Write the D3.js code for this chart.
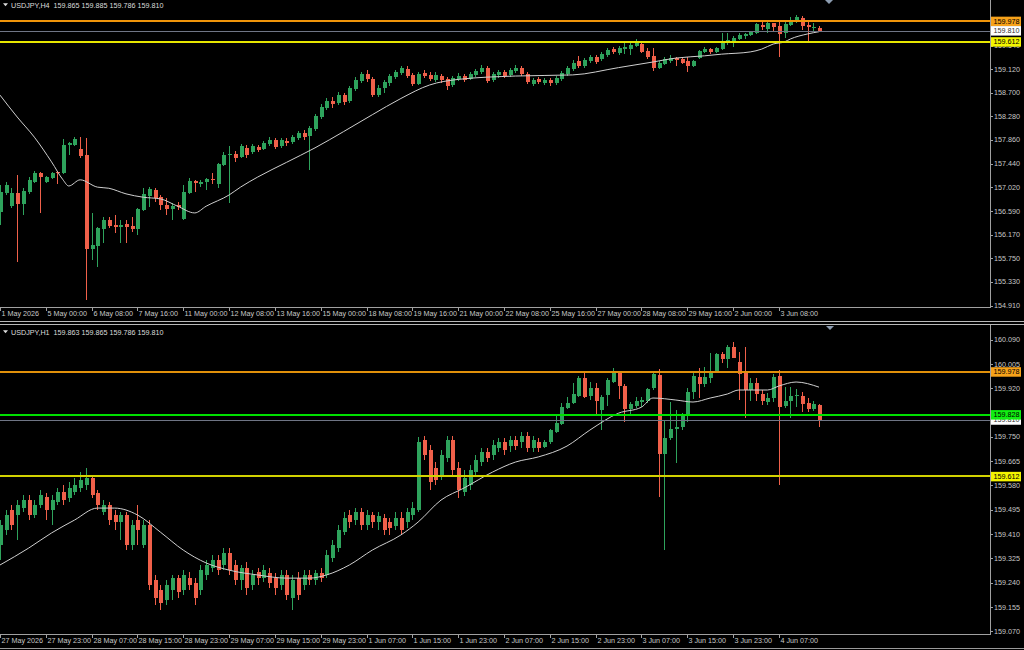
<!DOCTYPE html>
<html><head><meta charset="utf-8">
<script src="https://cdn.jsdelivr.net/npm/d3@7"></script>
<style>html,body{margin:0;padding:0;background:#000;overflow:hidden}svg{display:block}</style>
</head><body>
<svg id="c" width="1024" height="650"></svg>
<script>
// ---------------- DATA: USDJPY H4 ----------------
const h4Title = "USDJPY,H4  159.865 159.885 159.786 159.810";
const h4Open = [156.57,156.91,156.68,156.91,156.72,156.93,157.11,157.27,157.11,157.18,157.29,157.27,157.77,157.77,157.70,157.59,155.91,155.97,156.27,156.43,
156.34,156.31,156.36,156.32,156.27,156.61,156.86,156.97,156.84,156.70,156.63,156.70,156.45,156.91,157.13,157.07,157.11,157.16,157.07,157.41,
157.59,157.61,157.55,157.72,157.64,157.73,157.70,157.79,157.86,157.75,157.84,157.82,157.89,157.98,157.93,158.05,158.27,158.43,158.55,158.52,
158.66,158.55,158.77,158.91,159.04,158.95,158.67,158.78,158.88,158.98,159.05,159.13,159.02,158.86,159.05,159.02,158.93,159.00,158.95,158.84,
158.95,159.00,158.95,159.02,159.07,159.14,158.93,159.02,159.07,159.02,159.09,159.14,159.04,158.86,158.95,158.88,158.93,158.88,158.95,159.04,
159.13,159.27,159.18,159.27,159.34,159.30,159.38,159.48,159.41,159.48,159.48,159.54,159.57,159.45,159.36,159.14,159.21,159.27,159.32,159.30,
159.27,159.18,159.32,159.43,159.48,159.43,159.48,159.59,159.61,159.66,159.71,159.73,159.77,159.91,159.84,159.95,159.89,159.77,159.91,159.98,
160.04,159.91,159.86,159.865];
const h4High = [157.06,157.11,157.00,157.23,157.00,157.20,157.31,157.29,157.22,157.29,157.31,157.88,157.82,157.91,157.91,157.89,156.56,156.31,156.48,156.48,
156.52,156.43,156.43,156.48,156.65,157.00,157.02,157.00,156.88,156.82,156.73,156.75,157.06,157.18,157.15,157.15,157.18,157.27,157.45,157.64,
157.75,157.66,157.79,157.77,157.79,157.77,157.84,157.91,157.89,157.89,157.89,157.95,158.02,158.04,158.11,158.32,158.50,158.61,158.63,158.71,
158.70,158.82,158.98,159.07,159.11,158.98,158.84,158.93,159.04,159.11,159.18,159.18,159.05,159.07,159.11,159.07,159.07,159.04,158.98,159.00,
159.05,159.04,159.07,159.13,159.20,159.18,159.07,159.11,159.11,159.14,159.20,159.18,159.07,158.96,158.98,158.96,158.96,159.00,159.09,159.18,
159.29,159.36,159.32,159.38,159.38,159.43,159.50,159.52,159.54,159.59,159.61,159.66,159.59,159.50,159.50,159.27,159.34,159.38,159.34,159.32,
159.34,159.29,159.46,159.52,159.50,159.52,159.77,159.77,159.71,159.77,159.77,159.80,159.95,159.98,159.96,159.95,159.98,159.96,160.05,160.09,
160.07,160.00,159.95,159.885];
const h4Low = [156.34,156.88,156.65,155.68,156.52,156.90,157.09,156.56,157.09,157.16,157.07,157.25,157.59,157.75,157.54,155.00,155.72,155.59,156.02,156.29,
156.20,156.02,156.02,156.22,156.16,156.59,156.66,156.75,156.61,156.52,156.43,156.61,156.43,156.90,156.93,157.02,156.97,157.07,157.00,157.39,
156.73,157.47,157.54,157.54,157.61,157.64,157.68,157.75,157.70,157.72,157.75,157.79,157.86,157.86,157.32,158.02,158.23,158.39,158.43,158.48,
158.48,158.52,158.73,158.88,158.89,158.63,158.63,158.70,158.82,158.95,159.02,158.96,158.82,158.84,158.96,158.91,158.89,158.88,158.75,158.80,
158.91,158.89,158.93,158.98,159.04,158.88,158.89,158.96,158.96,158.98,159.05,159.00,158.86,158.82,158.86,158.84,158.82,158.84,158.91,159.00,
159.09,159.14,159.14,159.23,159.21,159.27,159.34,159.39,159.38,159.39,159.38,159.52,159.41,159.30,159.09,159.13,159.20,159.23,159.18,159.21,
159.07,159.16,159.30,159.41,159.39,159.41,159.46,159.55,159.52,159.64,159.66,159.71,159.75,159.82,159.77,159.79,159.34,159.68,159.89,159.95,
159.82,159.59,159.79,159.786];
const h4Close = [156.93,157.06,156.91,156.72,156.95,157.15,157.27,157.20,157.20,157.27,157.27,157.77,157.80,157.88,157.57,155.91,155.99,156.29,156.43,156.32,
156.31,156.34,156.31,156.27,156.63,156.90,156.98,156.82,156.70,156.63,156.68,156.66,156.93,157.13,157.09,157.11,157.16,157.15,157.43,157.59,
157.61,157.54,157.75,157.59,157.75,157.68,157.80,157.86,157.73,157.86,157.80,157.91,157.98,157.91,158.07,158.29,158.45,158.55,158.50,158.66,
158.54,158.79,158.93,159.04,158.95,158.66,158.79,158.89,159.00,159.07,159.14,159.00,158.86,159.04,159.00,158.95,159.02,158.93,158.82,158.96,
159.00,158.93,159.04,159.09,159.14,158.91,159.04,159.07,159.00,159.11,159.14,159.04,158.89,158.93,158.89,158.93,158.88,158.96,159.05,159.14,
159.23,159.18,159.29,159.34,159.25,159.39,159.46,159.43,159.50,159.52,159.55,159.59,159.43,159.34,159.14,159.23,159.30,159.32,159.29,159.23,
159.18,159.27,159.45,159.48,159.43,159.50,159.61,159.64,159.68,159.73,159.75,159.79,159.93,159.87,159.95,159.87,159.75,159.93,159.98,160.05,
159.89,159.87,159.87,159.810];
// moving average: [bar index, value]
const h4MA = [[0,158.66],[3,158.27],[6,157.91],[9,157.47],[11,157.15],[12,157.04],[14,157.15],[17,157.02],[19,157.00],[22,156.90],[25,156.84],[28,156.81],
[31,156.68],[34,156.56],[36,156.68],[40,156.88],[42,157.02],[45,157.20],[50,157.46],[55,157.72],[60,158.01],[65,158.31],[70,158.60],[75,158.84],
[80,158.94],[90,159.00],[100,159.02],[108,159.15],[114,159.25],[118,159.32],[123,159.36],[126,159.39],[131,159.43],[133,159.48],[135,159.57],
[137,159.61],[138,159.66],[141,159.75],[143,159.79]];
const h4TimeLabels = ["1 May 2026","5 May 00:00","6 May 08:00","7 May 16:00","11 May 00:00","12 May 08:00","13 May 16:00","15 May 00:00","18 May 08:00",
"19 May 16:00","21 May 00:00","22 May 08:00","25 May 16:00","27 May 00:00","28 May 08:00","29 May 16:00","2 Jun 00:00","3 Jun 08:00"];
const h4PriceTicks = [154.910,155.330,155.750,156.170,156.590,157.020,157.440,157.860,158.280,158.700,159.120,159.540];
const h4Levels = [159.978,159.810,159.612];

// ---------------- DATA: USDJPY H1 ----------------
const h1Title = "USDJPY,H1  159.863 159.865 159.786 159.810";
const h1Open = [159.372,159.424,159.494,159.477,159.501,159.529,159.477,159.512,159.540,159.494,159.522,159.557,159.536,159.557,159.571,159.582,159.606,159.554,159.487,159.512,
159.477,159.452,159.477,159.372,159.459,159.372,159.442,159.249,159.214,159.179,159.214,159.256,159.214,159.256,159.239,159.214,159.267,159.291,159.319,159.302,
159.344,159.302,159.249,159.291,159.232,159.277,159.256,159.274,159.256,159.232,159.267,159.186,159.256,159.232,159.267,159.249,159.274,159.267,159.326,159.361,
159.417,159.477,159.459,159.487,159.442,159.477,159.452,159.466,159.452,159.438,159.466,159.452,159.477,159.494,159.739,159.704,159.641,159.617,159.676,159.739,
159.641,159.557,159.582,159.627,159.662,159.697,159.687,159.711,159.732,159.718,159.739,159.732,159.753,159.711,159.732,159.714,159.732,159.767,159.795,159.851,
159.868,159.893,159.956,159.893,159.921,159.844,159.896,159.942,159.973,159.928,159.847,159.858,159.872,159.875,159.921,159.966,159.690,159.746,159.777,159.784,
159.826,159.907,159.959,159.935,159.956,159.977,160.040,160.022,160.064,160.012,159.977,159.914,159.938,159.900,159.872,159.886,159.963,159.858,159.875,159.893,
159.893,159.868,159.847,159.863];
const h1High = [159.459,159.494,159.512,159.529,159.547,159.547,159.529,159.564,159.554,159.547,159.571,159.582,159.592,159.606,159.627,159.641,159.617,159.564,159.529,159.522,
159.494,159.487,159.487,159.459,159.512,159.459,159.459,159.267,159.232,159.249,159.267,159.267,159.284,159.277,159.256,159.302,159.319,159.337,159.337,159.361,
159.361,159.319,159.302,159.312,159.284,159.291,159.302,159.291,159.274,159.284,159.284,159.267,159.277,159.284,159.284,159.284,159.291,159.354,159.389,159.442,
159.487,159.494,159.501,159.501,159.494,159.487,159.487,159.480,159.466,159.487,159.487,159.501,159.522,159.749,159.753,159.721,159.662,159.704,159.753,159.753,
159.662,159.634,159.652,159.687,159.711,159.711,159.739,159.746,159.746,159.753,159.753,159.767,159.767,159.753,159.746,159.739,159.777,159.826,159.868,159.889,
159.938,159.963,159.977,159.942,159.938,159.896,159.956,159.991,159.977,159.935,159.872,159.889,159.889,159.921,159.977,159.987,159.809,159.872,159.844,159.833,
159.921,159.973,159.991,159.994,160.043,160.043,160.047,160.071,160.082,160.047,160.064,159.956,159.956,159.914,159.903,159.970,159.984,159.924,159.924,159.917,
159.907,159.886,159.875,159.865];
const h1Low = [159.319,159.407,159.424,159.389,159.487,159.459,159.466,159.501,159.459,159.442,159.512,159.512,159.522,159.547,159.557,159.564,159.536,159.494,159.477,159.442,
159.424,159.389,159.354,159.354,159.372,159.361,159.214,159.162,159.144,159.162,159.179,159.186,159.197,159.214,159.162,159.197,159.249,159.277,159.267,159.284,
159.267,159.232,159.214,159.197,159.214,159.232,159.242,159.221,159.197,159.214,159.179,159.144,159.179,159.214,159.232,159.232,159.242,159.256,159.312,159.347,
159.407,159.431,159.442,159.424,159.424,159.431,159.424,159.407,159.407,159.424,159.407,159.431,159.459,159.487,159.669,159.564,159.582,159.599,159.662,159.617,
159.536,159.543,159.564,159.613,159.648,159.662,159.669,159.697,159.687,159.697,159.704,159.711,159.697,159.697,159.697,159.711,159.725,159.763,159.791,159.847,
159.865,159.889,159.886,159.879,159.823,159.774,159.858,159.938,159.882,159.802,159.826,159.851,159.854,159.868,159.914,159.540,159.354,159.739,159.659,159.774,
159.802,159.882,159.886,159.924,159.938,159.973,160.008,159.991,160.026,159.879,159.816,159.875,159.875,159.861,159.861,159.872,159.582,159.851,159.816,159.854,
159.837,159.837,159.840,159.786];
const h1Close = [159.442,159.477,159.442,159.512,159.529,159.477,159.512,159.547,159.494,159.529,159.557,159.529,159.571,159.582,159.599,159.606,159.547,159.512,159.512,159.459,
159.452,159.477,159.372,159.442,159.424,159.442,159.232,159.186,159.169,159.232,159.256,159.207,159.267,159.232,159.186,159.284,159.302,159.319,159.284,159.344,
159.284,159.249,159.291,159.221,159.267,159.256,159.284,159.239,159.221,159.267,159.197,159.249,159.197,159.267,159.249,159.274,159.256,159.337,159.372,159.424,
159.466,159.452,159.487,159.442,159.477,159.452,159.473,159.424,159.431,159.466,159.424,159.487,159.501,159.732,159.687,159.592,159.599,159.687,159.739,159.634,
159.564,159.606,159.634,159.669,159.697,159.676,159.721,159.732,159.704,159.739,159.718,159.753,159.711,159.739,159.711,159.732,159.774,159.798,159.854,159.868,
159.900,159.956,159.889,159.921,159.875,159.889,159.949,159.973,159.928,159.847,159.865,159.875,159.879,159.917,159.970,159.690,159.746,159.777,159.784,159.826,
159.907,159.963,159.935,159.959,159.977,160.040,160.022,160.064,160.026,159.970,159.914,159.938,159.900,159.875,159.886,159.959,159.854,159.875,159.893,159.896,
159.865,159.847,159.865,159.810];
const h1MA = [[0,159.302],[5,159.361],[9,159.414],[13,159.459],[17,159.501],[20,159.501],[24,159.477],[28,159.417],[32,159.354],[36,159.309],[40,159.284],
[45,159.267],[50,159.256],[54,159.256],[57,159.267],[61,159.302],[65,159.354],[70,159.407],[73,159.452],[77,159.529],[81,159.571],[86,159.627],[90,159.662],
[94,159.680],[99,159.718],[103,159.774],[108,159.833],[112,159.854],[114,159.886],[118,159.879],[121,159.872],[124,159.886],[127,159.900],[129,159.914],
[134,159.914],[136,159.928],[139,159.942],[143,159.924]];
const h1TimeLabels = ["27 May 2026","27 May 23:00","28 May 07:00","28 May 15:00","28 May 23:00","29 May 07:00","29 May 15:00","29 May 23:00","1 Jun 07:00",
"1 Jun 15:00","1 Jun 23:00","2 Jun 07:00","2 Jun 15:00","2 Jun 23:00","3 Jun 07:00","3 Jun 15:00","3 Jun 23:00","4 Jun 07:00"];
const h1PriceTicks = [159.070,159.155,159.240,159.325,159.410,159.495,159.580,159.665,159.750,159.920,160.005,160.090];
const h1Levels = [159.978,159.810,159.828,159.612];

// ---------------- STYLE / LAYOUT ----------------
const BULL = "#2ea35c", BEAR = "#f0604a", MA_COL = "#cfcfcf";
const AXIS_COL = "#a0a0a0", TXT_COL = "#c8c8c8";
const levelStyleTop = [
  {line:"#f0950a", box:"#f7a21a", txt:"#000", w:2},
  {line:"#6f7585", box:"#ffffff", txt:"#333", w:1},
  {line:"#e6e600", box:"#f4f400", txt:"#000", w:2}];
const levelStyleBot = [
  {line:"#e0900a", box:"#f7a21a", txt:"#000", w:2},
  {line:"#6f7585", box:"#ffffff", txt:"#333", w:1},
  {line:"#00e000", box:"#11ee11", txt:"#000", w:2},
  {line:"#d2d200", box:"#f4f400", txt:"#000", w:2}];

const FONT = "'Liberation Sans', Arial, sans-serif";
const PLOT_R = 990;

const svg = d3.select("#c");
svg.append("rect").attr("width",1024).attr("height",650).attr("fill","#000");

const panels = [
  {id:"p1", open:h4Open, high:h4High, low:h4Low, close:h4Close, ma:h4MA, times:h4TimeLabels, ticks:h4PriceTicks,
   levels:h4Levels, lstyle:levelStyleTop, title:h4Title, top:0, bottom:307,
   yDom:[154.910,159.120], yRng:[305.5,69.3], timeBase:316.3, headBase:8.3, tri:[829,0]},
  {id:"p2", open:h1Open, high:h1High, low:h1Low, close:h1Close, ma:h1MA, times:h1TimeLabels, ticks:h1PriceTicks,
   levels:h1Levels, lstyle:levelStyleBot, title:h1Title, top:325, bottom:634,
   yDom:[159.070,160.090], yRng:[631.3,339.7], timeBase:643.2, headBase:335.3, tri:[830,326]}
];

panels.forEach(P => {
  const n = P.open.length;
  const x = d3.scaleLinear().domain([0, n-1]).range([0, 819]);
  const y = d3.scaleLinear().domain(P.yDom).range(P.yRng);
  const g = svg.append("g");

  const clipId = "clip_" + P.id;
  svg.append("clipPath").attr("id", clipId).append("rect")
    .attr("x",0).attr("y",P.top).attr("width",PLOT_R).attr("height",P.bottom-P.top);
  const plot = g.append("g").attr("clip-path","url(#"+clipId+")");

  const idx = d3.range(n);
  plot.append("g").attr("shape-rendering","crispEdges").selectAll("line").data(idx).join("line")
    .attr("x1", i => Math.round(x(i))+0.5).attr("x2", i => Math.round(x(i))+0.5)
    .attr("y1", i => y(P.high[i])).attr("y2", i => y(P.low[i]))
    .attr("stroke", i => P.close[i] >= P.open[i] ? BULL : BEAR).attr("stroke-width",1);
  plot.append("g").attr("shape-rendering","crispEdges").selectAll("rect").data(idx).join("rect")
    .attr("x", i => Math.round(x(i))-1.5)
    .attr("width", 4)
    .attr("y", i => y(Math.max(P.open[i], P.close[i])))
    .attr("height", i => Math.max(1, Math.abs(y(P.open[i]) - y(P.close[i]))))
    .attr("fill", i => P.close[i] >= P.open[i] ? BULL : BEAR);
  plot.append("path").datum(P.ma)
    .attr("d", d3.line().x(d => x(d[0])).y(d => y(d[1])).curve(d3.curveMonotoneX))
    .attr("fill","none").attr("stroke",MA_COL).attr("stroke-width",1);
  plot.append("g").attr("shape-rendering","crispEdges").selectAll("line").data(P.levels).join("line")
    .attr("x1",0).attr("x2",PLOT_R)
    .attr("y1", (d,k) => Math.round(y(d)) + (P.lstyle[k].w % 2 ? 0.5 : 0))
    .attr("y2", (d,k) => Math.round(y(d)) + (P.lstyle[k].w % 2 ? 0.5 : 0))
    .attr("stroke", (d,k) => P.lstyle[k].line).attr("stroke-width",(d,k) => P.lstyle[k].w);

  g.append("line").attr("x1",PLOT_R+0.5).attr("x2",PLOT_R+0.5).attr("y1",P.top).attr("y2",P.bottom+0.5)
    .attr("stroke",AXIS_COL).attr("shape-rendering","crispEdges");
  g.append("line").attr("x1",0).attr("x2",PLOT_R+0.5).attr("y1",P.bottom+0.5).attr("y2",P.bottom+0.5)
    .attr("stroke",AXIS_COL).attr("shape-rendering","crispEdges");

  const ya = g.append("g");
  P.ticks.forEach(t => {
    const yy = y(t);
    ya.append("line").attr("x1",PLOT_R).attr("x2",PLOT_R+3).attr("y1",Math.round(yy)+0.5).attr("y2",Math.round(yy)+0.5)
      .attr("stroke",AXIS_COL).attr("shape-rendering","crispEdges");
    ya.append("text").attr("x",PLOT_R+4).attr("y",yy+2.5).text(t.toFixed(3))
      .attr("fill",TXT_COL).attr("font-family",FONT).attr("font-size",7.2);
  });

  const ta = g.append("g");
  P.times.forEach((lab,k) => {
    const xx = Math.round(x(k*8))+0.5;
    ta.append("line").attr("x1",xx).attr("x2",xx).attr("y1",P.bottom).attr("y2",P.bottom+3.5)
      .attr("stroke",AXIS_COL).attr("shape-rendering","crispEdges");
    ta.append("text").attr("x",xx+1).attr("y",P.timeBase).text(lab)
      .attr("fill",TXT_COL).attr("font-family",FONT).attr("font-size",7.2);
  });

  P.levels.forEach((v,k) => {
    const yy = y(v);
    g.append("rect").attr("x",PLOT_R+1).attr("y",yy-4.5).attr("width",30).attr("height",9.5)
      .attr("fill",P.lstyle[k].box);
    g.append("text").attr("x",PLOT_R+3.5).attr("y",yy+2.6).text(v.toFixed(3))
      .attr("fill",P.lstyle[k].txt).attr("font-family",FONT).attr("font-size",7.2);
  });

  g.append("path").attr("d",`M3,${P.headBase-5}L8,${P.headBase-5}L5.5,${P.headBase-2}Z`).attr("fill","#dcdcdc");
  g.append("text").attr("x",11).attr("y",P.headBase).text(P.title)
    .style("white-space","pre")
    .attr("fill","#dcdcdc").attr("font-family",FONT).attr("font-size",7.2);

  const [tx,ty] = P.tri;
  g.append("path").attr("d",`M${tx-4},${ty}L${tx+4},${ty}L${tx},${ty+4}Z`).attr("fill","#8c9cb0");
});

[321.5, 324.5].forEach(yy => svg.append("line").attr("x1",0).attr("x2",1024).attr("y1",yy).attr("y2",yy)
  .attr("stroke","#b8b8b8").attr("shape-rendering","crispEdges"));
svg.append("line").attr("x1",0).attr("x2",1024).attr("y1",648.5).attr("y2",648.5)
  .attr("stroke","#9a9a9a").attr("shape-rendering","crispEdges");
</script>
</body></html>
